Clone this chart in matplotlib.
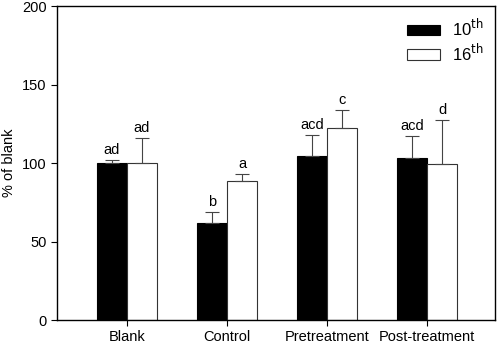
import numpy as np
import matplotlib
matplotlib.use('Agg')
import matplotlib.pyplot as plt

plt.rcParams['font.family'] = ['Liberation Sans', 'DejaVu Sans']
plt.rcParams['font.size'] = 10

groups = ['Blank', 'Control', 'Pretreatment', 'Post-treatment']
mean10 = [100, 62, 104.5, 103.5]
err10 = [2, 6.5, 13.5, 13.5]
mean16 = [100, 88.5, 122.5, 99.5]
err16 = [16, 4.5, 11, 28]
lab10 = ['ad', 'b', 'acd', 'acd']
lab16 = ['ad', 'a', 'c', 'd']

fig = plt.figure(figsize=(4.98, 3.43), dpi=100)
ax = fig.add_axes([0.1145, 0.067, 0.8795, 0.9155])

x = np.arange(len(groups))
w = 0.3
ax.bar(x - w/2, mean10, w, color='black', edgecolor='black', linewidth=0.8, label='10$^{\\mathrm{th}}$')
ax.bar(x + w/2, mean16, w, color='white', edgecolor='#333333', linewidth=0.8, label='16$^{\\mathrm{th}}$')
ax.errorbar(x - w/2, mean10, yerr=[np.zeros(4), err10], fmt='none', ecolor='#444444', elinewidth=0.8, capsize=5, capthick=0.8)
ax.errorbar(x + w/2, mean16, yerr=[np.zeros(4), err16], fmt='none', ecolor='#444444', elinewidth=0.8, capsize=5, capthick=0.8)

for i in range(len(groups)):
    ax.text(x[i] - w/2, mean10[i] + err10[i] + 2, lab10[i], ha='center', va='bottom', fontsize=10.5)
    ax.text(x[i] + w/2, mean16[i] + err16[i] + 2, lab16[i], ha='center', va='bottom', fontsize=10.5)

ax.set_xlim(-0.7, 3.68)
ax.set_ylim(0, 200)
ax.set_yticks([0, 50, 100, 150, 200])
ax.set_xticks(x)
ax.set_xticklabels(groups, fontsize=10.5)
ax.tick_params(axis='y', labelsize=10.5)
ax.set_ylabel('% of blank', fontsize=10.5)
ax.tick_params(direction='out', length=4, width=0.8)
for s in ax.spines.values():
    s.set_linewidth(1.0)

ax.legend(loc='upper right', frameon=False, handlelength=2.0, handleheight=0.55,
          borderaxespad=0.4, borderpad=0.3, labelspacing=0.2, handletextpad=0.7, fontsize=12)

fig.savefig('out.png', dpi=100)
